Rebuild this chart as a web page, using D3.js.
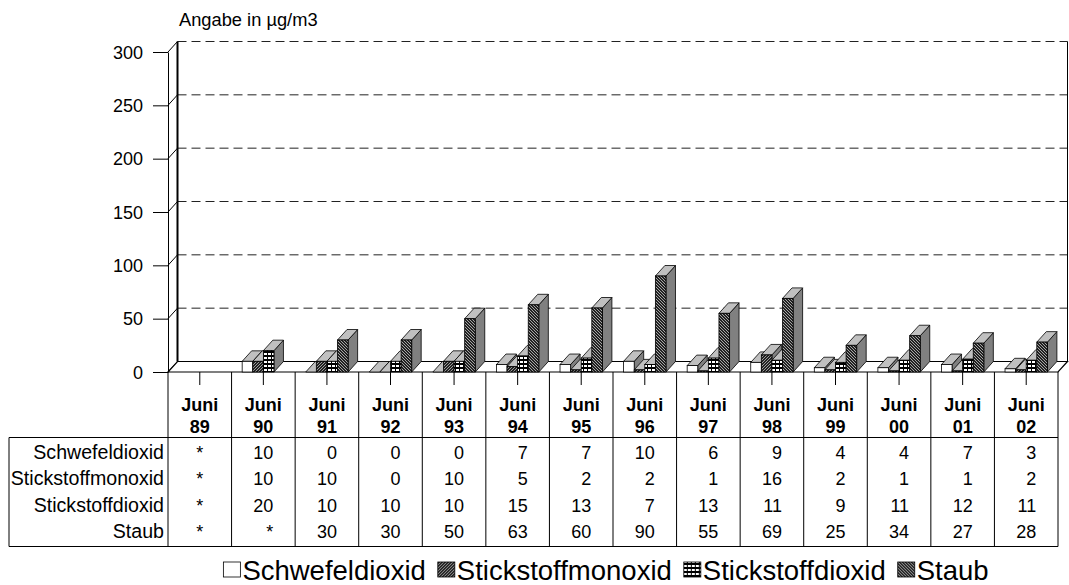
<!DOCTYPE html>
<html>
<head>
<meta charset="utf-8">
<script src="https://cdn.jsdelivr.net/npm/d3@7"></script>
<style>
  html, body { margin: 0; padding: 0; background: #fff; }
  svg { display: block; font-family: "Liberation Sans", Arial, sans-serif; }
</style>
</head>
<body>
<svg id="chart" width="1069" height="585"></svg>
<script>
// Messwerte im Juni, Angabe in µg/m3 (null = kein Wert, in der Tabelle als "*")
const years = ["89","90","91","92","93","94","95","96","97","98","99","00","01","02"];
const seriesNames = ["Schwefeldioxid","Stickstoffmonoxid","Stickstoffdioxid","Staub"];
const schwefeldioxid    = [null,10, 0, 0, 0, 7, 7,10, 6, 9, 4, 4, 7, 3];
const stickstoffmonoxid = [null,10,10, 0,10, 5, 2, 2, 1,16, 2, 1, 1, 2];
const stickstoffdioxid  = [null,20,10,10,10,15,13, 7,13,11, 9,11,12,11];
const staub             = [null,null,30,30,50,63,60,90,55,69,25,34,27,28];
const yTicks = [0, 50, 100, 150, 200, 250, 300];
const unitLabel = "Angabe in µg/m3";
const catPrefix = "Juni";

const seriesValues = [schwefeldioxid, stickstoffmonoxid, stickstoffdioxid, staub];
const patternIds = ["pat-white", "pat-mono", "pat-dioxid", "pat-staub"];

const svg = d3.select("#chart");

// ---- patterns for the front faces ----
const defs = svg.append("defs");
defs.append("pattern").attr("id", "pat-white").attr("patternUnits", "userSpaceOnUse")
  .attr("width", 4).attr("height", 4)
  .append("rect").attr("width", 4).attr("height", 4).attr("fill", "#fff");

const pMono = defs.append("pattern").attr("id", "pat-mono").attr("patternUnits", "userSpaceOnUse")
  .attr("width", 3).attr("height", 3);
pMono.append("rect").attr("width", 3).attr("height", 3).attr("fill", "#222");
pMono.append("path").attr("d", "M-1,1 L1,-1 M0,3 L3,0 M2,4 L4,2").attr("stroke", "#bbb").attr("stroke-width", 0.8);

const pDiox = defs.append("pattern").attr("id", "pat-dioxid").attr("patternUnits", "userSpaceOnUse")
  .attr("width", 4).attr("height", 4);
pDiox.append("rect").attr("width", 4).attr("height", 4).attr("fill", "#000");
pDiox.append("rect").attr("x", 0).attr("y", 1).attr("width", 3).attr("height", 2).attr("fill", "#fff");

const pStaub = defs.append("pattern").attr("id", "pat-staub").attr("patternUnits", "userSpaceOnUse")
  .attr("width", 3).attr("height", 3);
pStaub.append("rect").attr("width", 3).attr("height", 3).attr("fill", "#222");
pStaub.append("path").attr("d", "M-1,2 L1,4 M0,0 L3,3 M2,-1 L4,1").attr("stroke", "#c8c8c8").attr("stroke-width", 0.8);

// ---- geometry ----
const plotLeft = 168, plotRight = 1058;
const depthX = 9.5, depthY = 10.5;
const x = d3.scaleBand().domain(years).range([plotLeft, plotRight]).paddingInner(0).paddingOuter(0);
const colW = x.bandwidth();
const xs = d3.scaleBand().domain(seriesNames).range([0, colW]).paddingInner(0).paddingOuter(1);
const bw = xs.bandwidth();
const y = d3.scaleLinear().domain([0, 300]).range([372, 52]);
const y0 = y(0);

// ---- walls and floor ----
const walls = svg.append("g");
// back wall
walls.append("rect")
  .attr("x", plotLeft + depthX).attr("y", y(300) - depthY)
  .attr("width", plotRight - plotLeft).attr("height", y0 - y(300))
  .attr("fill", "#fff");
// dashed gridlines on the back wall
walls.selectAll("line.grid").data(yTicks.filter(d => d > 0)).join("line")
  .attr("class", "grid")
  .attr("x1", plotLeft + depthX).attr("x2", plotRight + depthX)
  .attr("y1", d => y(d) - depthY).attr("y2", d => y(d) - depthY)
  .attr("stroke", "#222").attr("stroke-width", 1).attr("stroke-dasharray", "9,5");
// diagonals on the side wall
walls.selectAll("line.side").data(yTicks).join("line")
  .attr("class", "side")
  .attr("x1", plotLeft).attr("x2", plotLeft + depthX)
  .attr("y1", d => y(d)).attr("y2", d => y(d) - depthY)
  .attr("stroke", "#000").attr("stroke-width", 1);
// back wall left edge (thick) and right edge
walls.append("line")
  .attr("x1", plotLeft + depthX).attr("x2", plotLeft + depthX)
  .attr("y1", y(300) - depthY).attr("y2", y0 - depthY)
  .attr("stroke", "#000").attr("stroke-width", 2);
walls.append("line")
  .attr("x1", plotRight + depthX).attr("x2", plotRight + depthX)
  .attr("y1", y(300) - depthY).attr("y2", y0 - depthY)
  .attr("stroke", "#000").attr("stroke-width", 1);
// floor
walls.append("path")
  .attr("d", `M${plotLeft},${y0} L${plotRight},${y0} L${plotRight + depthX},${y0 - depthY} L${plotLeft + depthX},${y0 - depthY} Z`)
  .attr("fill", "#fff").attr("stroke", "#000").attr("stroke-width", 1.2);

// ---- 3D columns ----
const bars = [];
years.forEach((yr, i) => {
  seriesNames.forEach((s, j) => {
    const v = seriesValues[j][i];
    if (v === null) return;
    bars.push({ yr, s, j, v });
  });
});
const barG = svg.append("g");
const barSel = barG.selectAll("g.bar").data(bars).join("g").attr("class", "bar");
// side face
barSel.append("path")
  .attr("d", d => {
    const bx = x(d.yr) + xs(d.s) + bw, top = y(d.v);
    return `M${bx},${top} L${bx + depthX},${top - depthY} L${bx + depthX},${y0 - depthY} L${bx},${y0} Z`;
  })
  .attr("fill", "#808080").attr("stroke", "#000").attr("stroke-width", 0.8).attr("stroke-linejoin", "round");
// top face
barSel.append("path")
  .attr("d", d => {
    const bx = x(d.yr) + xs(d.s), top = y(d.v);
    return `M${bx},${top} L${bx + bw},${top} L${bx + bw + depthX},${top - depthY} L${bx + depthX},${top - depthY} Z`;
  })
  .attr("fill", "#c0c0c0").attr("stroke", "#000").attr("stroke-width", 0.8).attr("stroke-linejoin", "round");
// front face
barSel.append("rect")
  .attr("x", d => x(d.yr) + xs(d.s))
  .attr("y", d => y(d.v))
  .attr("width", bw)
  .attr("height", d => y0 - y(d.v))
  .attr("fill", d => `url(#${patternIds[d.j]})`)
  .attr("stroke", "#000").attr("stroke-width", 0.8);

// ---- value axis ----
const yAxis = d3.axisLeft(y).tickValues(yTicks).tickSize(15).tickSizeOuter(0).tickPadding(10);
const yG = svg.append("g").attr("transform", `translate(${plotLeft},0)`).call(yAxis);
yG.select(".domain").attr("stroke", "#000");
yG.selectAll(".tick line").attr("stroke", "#000");
yG.selectAll(".tick text").attr("font-size", 18).attr("fill", "#000")
  .attr("font-family", '"Liberation Sans", Arial, sans-serif').attr("dy", "0.34em");

// unit label
svg.append("text").attr("x", 179).attr("y", 26).attr("font-size", 18.3).text(unitLabel);

// ---- data table ----
const tableTop = 437.5, tableBottom = 546.5, tableLeft = 9;
const rowBase = [458.5, 485, 511.5, 538];
const tbl = svg.append("g");
// short category ticks
const xAxis = d3.axisBottom(x).tickSize(13).tickSizeOuter(0).tickFormat("");
const xG = tbl.append("g").attr("transform", `translate(0,${y0})`).call(xAxis);
xG.select(".domain").remove();
xG.selectAll(".tick line").attr("stroke", "#000");
// column separators
const edges = years.map(d => x(d)).concat([plotRight]);
tbl.selectAll("line.col").data(edges).join("line")
  .attr("class", "col")
  .attr("x1", d => d).attr("x2", d => d)
  .attr("y1", y0).attr("y2", tableBottom)
  .attr("stroke", "#000").attr("stroke-width", 1);
tbl.append("line").attr("x1", tableLeft).attr("x2", plotRight).attr("y1", tableTop).attr("y2", tableTop).attr("stroke", "#000");
tbl.append("line").attr("x1", tableLeft).attr("x2", plotRight).attr("y1", tableBottom).attr("y2", tableBottom).attr("stroke", "#000");
tbl.append("line").attr("x1", tableLeft).attr("x2", tableLeft).attr("y1", tableTop).attr("y2", tableBottom).attr("stroke", "#000");

// category headers
const hdr = tbl.selectAll("g.hdr").data(years).join("g").attr("class", "hdr");
hdr.append("text").attr("x", d => x(d) + colW / 2).attr("y", 411)
  .attr("text-anchor", "middle").attr("font-size", 18).attr("font-weight", "bold").text(catPrefix);
hdr.append("text").attr("x", d => x(d) + colW / 2).attr("y", 432.5)
  .attr("text-anchor", "middle").attr("font-size", 18).attr("font-weight", "bold").text(d => d);

// row labels
tbl.selectAll("text.rowlab").data(seriesNames).join("text")
  .attr("class", "rowlab")
  .attr("x", 164).attr("y", (d, j) => rowBase[j])
  .attr("text-anchor", "end").attr("font-size", 19.6).text(d => d);

// cell values: right-aligned block centred in each column
years.forEach((yr, i) => {
  const cells = seriesValues.map(arr => arr[i] === null ? "*" : String(arr[i]));
  const g = tbl.append("g");
  const txt = g.selectAll("text").data(cells).join("text")
    .attr("y", (d, j) => rowBase[j]).attr("font-size", 18).text(d => d);
  let maxW = 0;
  txt.each(function () { maxW = Math.max(maxW, this.getComputedTextLength()); });
  txt.attr("text-anchor", "end").attr("x", x(yr) + colW / 2 + maxW / 2);
});

// ---- legend ----
const legend = svg.append("g");
const items = legend.selectAll("g.item").data(seriesNames).join("g").attr("class", "item");
items.append("rect").attr("width", 17).attr("height", 15).attr("y", -18)
  .attr("fill", (d, j) => `url(#${patternIds[j]})`).attr("stroke", "#000").attr("stroke-width", 0.8);
items.append("text").attr("x", 19).attr("y", 0).attr("font-size", 27.5).text(d => d);
let cx = 0;
const offsets = [];
items.each(function () {
  offsets.push(cx);
  cx += 19 + d3.select(this).select("text").node().getComputedTextLength() + 12;
});
const total = cx - 12;
const startX = 606 - total / 2;
items.attr("transform", (d, j) => `translate(${startX + offsets[j]},580)`);
</script>
</body>
</html>
